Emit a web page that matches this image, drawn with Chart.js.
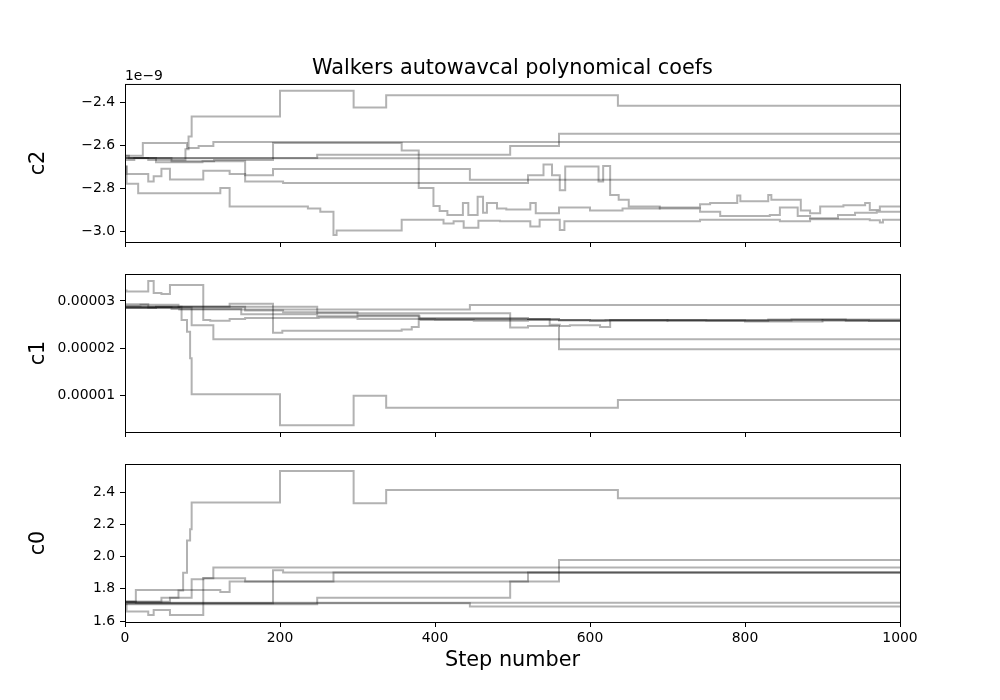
<!DOCTYPE html>
<html>
<head>
<meta charset="utf-8">
<script src="https://cdn.jsdelivr.net/npm/chart.js@4.4.0/dist/chart.umd.min.js"></script>
<style>
  body { margin: 0; background: #fff; }
  #wrap { position: relative; width: 1000px; height: 700px; }
  #wrap canvas { position: absolute; left: 0; }
</style>
</head>
<body>
<div id="wrap">
  <canvas id="chartC2" width="1000" height="252" style="top:0px"></canvas>
  <canvas id="chartC1" width="1000" height="178" style="top:264px"></canvas>
  <canvas id="chartC0" width="1000" height="246" style="top:454px"></canvas>
</div>
<script>
// ---- data: each walker = list of [step, value] change points ----
const nSteps = 1000;
const xTicks = [0, 200, 400, 600, 800, 1000];

// c2 in units of 1e-9
const c2Ticks = [-3.0, -2.8, -2.6, -2.4];
const c2Walkers = [
  [[0,-2.66],[30,-2.67],[78,-2.62],[82,-2.56],[86,-2.467],[200,-2.347],[295,-2.425],[337,-2.369],[636,-2.417]],
  [[0,-2.65],[23,-2.59],[80,-2.614],[95,-2.605],[114,-2.586]],
  [[0,-2.67],[12,-2.66],[60,-2.675],[115,-2.67],[191,-2.591],[357,-2.625],[379,-2.80],[398,-2.883],[406,-2.907],[416,-2.925],[436,-2.87],[443,-2.925],[455,-2.84],[462,-2.915],[467,-2.87],[480,-2.895],[492,-2.90],[523,-2.87],[530,-2.917],[560,-2.89],[600,-2.905],[642,-2.895],[690,-2.89],[742,-2.875],[755,-2.87],[790,-2.835],[794,-2.862],[830,-2.832],[834,-2.855],[872,-2.905],[884,-2.917],[897,-2.886],[927,-2.88],[955,-2.87],[961,-2.902],[974,-2.886]],
  [[0,-2.66],[248,-2.645],[497,-2.604],[560,-2.548]],
  [[0,-2.65],[5,-2.661]],
  [[0,-2.70],[2,-2.735],[30,-2.77],[37,-2.745],[47,-2.71],[58,-2.76],[101,-2.72],[135,-2.735],[155,-2.74],[191,-2.712],[445,-2.762]],
  [[0,-2.70],[2,-2.78],[17,-2.824],[123,-2.80],[135,-2.886],[236,-2.895],[252,-2.91],[269,-3.018],[273,-2.997],[357,-2.948],[411,-2.965],[424,-2.955],[437,-2.985],[456,-2.952],[484,-2.955],[523,-2.979],[535,-2.948],[561,-2.995],[567,-2.955],[742,-2.948],[845,-2.955],[884,-2.945],[961,-2.95],[974,-2.96],[978,-2.948]],
  [[0,-2.66],[40,-2.68],[100,-2.675],[155,-2.77],[204,-2.777],[520,-2.74],[540,-2.69],[551,-2.74],[561,-2.81],[568,-2.70],[611,-2.77],[617,-2.697],[626,-2.832],[637,-2.855],[650,-2.886],[690,-2.895],[742,-2.91],[768,-2.93],[832,-2.925],[845,-2.89],[868,-2.93],[884,-2.94],[920,-2.925],[942,-2.915],[970,-2.91]]
];

// c1 in units of 1e-5
const c1Ticks = [0.00001, 0.00002, 0.00003];
const c1Walkers = [
  [[0,2.90],[20,2.92],[69,2.88],[73,2.60],[80,2.35],[84,1.79],[86,1.03],[200,0.378],[295,1.0],[337,0.744],[636,0.907]],
  [[0,2.93],[30,2.86],[86,2.49],[114,2.19]],
  [[0,2.85],[40,2.88],[135,2.94],[191,2.33],[203,2.37],[357,2.40],[370,2.45],[379,2.60],[450,2.58],[520,2.60],[600,2.575],[700,2.59],[800,2.565],[900,2.60],[960,2.58]],
  [[0,2.88],[248,2.74],[497,2.44],[520,2.47],[560,1.98]],
  [[0,2.87],[60,2.83],[150,2.72],[248,2.68],[380,2.62],[560,2.60],[700,2.58],[830,2.61],[930,2.58]],
  [[0,2.85],[70,2.82],[445,2.915]],
  [[0,3.22],[2,3.20],[30,3.42],[37,3.17],[47,3.15],[58,3.34],[101,2.60],[110,2.58],[135,2.62],[155,2.64],[250,2.65],[300,2.62],[400,2.61],[560,2.59],[620,2.60],[800,2.60],[900,2.58]],
  [[0,2.88],[155,2.80],[204,2.76],[300,2.70],[379,2.64],[520,2.62],[548,2.50],[561,2.47],[574,2.49],[613,2.45],[626,2.60],[750,2.59],[860,2.61]]
];

const c0Ticks = [1.6, 1.8, 2.0, 2.2, 2.4];
const c0Walkers = [
  [[0,1.72],[58,1.745],[69,1.79],[75,1.90],[80,2.10],[84,2.17],[86,2.336],[200,2.532],[295,2.332],[337,2.414],[636,2.363]],
  [[0,1.70],[2,1.659],[30,1.638],[37,1.668],[58,1.638],[101,1.866],[114,1.932]],
  [[0,1.71],[191,1.916],[204,1.901]],
  [[0,1.705],[248,1.745],[497,1.845],[520,1.901]],
  [[0,1.72],[14,1.714]],
  [[0,1.71],[445,1.69]],
  [[0,1.72],[14,1.793],[123,1.78],[135,1.845],[269,1.901]],
  [[0,1.72],[47,1.745],[86,1.86],[101,1.866],[155,1.845],[560,1.979]]
];

Chart.defaults.font.family = "'DejaVu Sans', sans-serif";
Chart.defaults.color = "#000";

const labelSize = 20.8; // 15pt
const tickSize = 13.9;  // 10pt

// build one stepped line per walker, held until the last step
function toDataset(points, scale) {
  const data = points.map((p) => ({ x: p[0], y: p[1] * scale }));
  const last = points[points.length - 1];
  data.push({ x: nSteps, y: last[1] * scale });
  return {
    data: data,
    borderColor: "rgba(0,0,0,0.3)",
    borderWidth: 2,
    pointRadius: 0,
    stepped: true,
    fill: false,
  };
}

// box around the axes + optional offset text (1e-9)
const framePlugin = {
  id: "frame",
  afterDraw(chart, args, opts) {
    const { ctx, chartArea: a } = chart;
    ctx.save();
    ctx.strokeStyle = "#000";
    ctx.lineWidth = 1;
    ctx.strokeRect(a.left + 0.5, a.top + 0.5, a.right - a.left, a.bottom - a.top);
    if (opts.offsetText) {
      ctx.font = tickSize + "px 'DejaVu Sans'";
      ctx.fillStyle = "#000";
      ctx.textAlign = "left";
      ctx.textBaseline = "alphabetic";
      ctx.fillText(opts.offsetText, a.left, a.top - 4);
    }
    ctx.restore();
  },
};

function makePanel(id, walkers, cfg) {
  return new Chart(document.getElementById(id), {
    type: "line",
    data: { datasets: walkers.map((w) => toDataset(w, cfg.scale)) },
    options: {
      responsive: false,
      animation: false,
      events: [],
      layout: { padding: { top: cfg.padTop, left: 0, right: 100, bottom: 0 } },
      plugins: {
        legend: { display: false },
        tooltip: { enabled: false },
        title: cfg.title
          ? {
              display: true,
              text: cfg.title,
              fullSize: false,
              color: "#000",
              font: { size: labelSize, weight: "normal" },
              padding: { top: 56, bottom: 3 },
            }
          : { display: false },
        frame: { offsetText: cfg.offsetText },
      },
      scales: {
        x: {
          type: "linear",
          min: 0,
          max: nSteps,
          afterBuildTicks: (s) => {
            s.ticks = xTicks.map((v) => ({ value: v }));
          },
          afterFit: (s) => {
            s.height = cfg.xHeight;
            s.paddingLeft = 0;
            s.paddingRight = 0;
          },
          grid: { drawOnChartArea: false, drawTicks: true, tickLength: 5, color: "#000" },
          border: { display: false },
          ticks: {
            display: cfg.showX,
            padding: 3,
            font: { size: tickSize },
            color: "#000",
            callback: (v) => String(v),
          },
          title: {
            display: cfg.showX,
            text: "Step number",
            color: "#000",
            font: { size: labelSize },
            padding: { top: 0, bottom: 27 },
          },
        },
        y: {
          type: "linear",
          min: cfg.min,
          max: cfg.max,
          afterBuildTicks: (s) => {
            s.ticks = cfg.ticks.map((v) => ({ value: v }));
          },
          afterFit: (s) => {
            s.width = 125;
            s.paddingTop = 0;
            s.paddingBottom = 0;
          },
          grid: { drawOnChartArea: false, drawTicks: true, tickLength: 5, color: "#000" },
          border: { display: false },
          ticks: { padding: 5, font: { size: tickSize }, color: "#000", callback: cfg.fmt },
          title: {
            display: true,
            text: cfg.label,
            color: "#000",
            font: { size: labelSize },
            padding: { top: 26, bottom: 0 },
          },
        },
      },
    },
    plugins: [framePlugin],
  });
}

makePanel("chartC2", c2Walkers, {
  scale: 1, min: -3.051, max: -2.316, ticks: c2Ticks, label: "c2",
  title: "Walkers autowavcal polynomical coefs", offsetText: "1e\u22129",
  padTop: 0, xHeight: 10, showX: false,
  fmt: (v) => v.toFixed(1).replace("-", "\u2212"),
});

makePanel("chartC1", c1Walkers, {
  scale: 1e-5, min: 0.233e-5, max: 3.57e-5, ticks: c1Ticks, label: "c1",
  padTop: 10, xHeight: 10, showX: false,
  fmt: (v) => v.toFixed(5),
});

makePanel("chartC0", c0Walkers, {
  scale: 1, min: 1.594, max: 2.576, ticks: c0Ticks, label: "c0",
  padTop: 10, xHeight: 78, showX: true,
  fmt: (v) => v.toFixed(1),
});
</script>
</body>
</html>
